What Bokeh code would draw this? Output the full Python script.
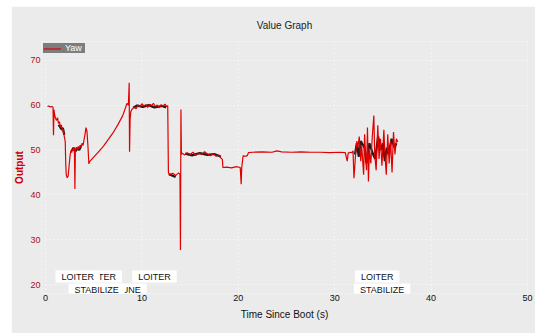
from bokeh.plotting import figure
from bokeh.models import FixedTicker, Label, Range1d
from bokeh.embed import file_html
from bokeh.resources import INLINE

NAN = float("nan")

title_text = "Value Graph"
x_label = "Time Since Boot (s)"
y_label = "Output"
series_name = "Yaw"
x_ticks = [0, 10, 20, 30, 40, 50]
y_ticks = [20, 30, 40, 50, 60, 70]

time_s = [0.2, 0.35, 0.5, 0.65, 0.78, 0.83, 0.88, 0.95, 1.05, 1.15, 1.25, 1.35, 1.45, 1.55,
          1.65, 1.75, 1.85, 1.95, 2.0, 2.05, 2.1, 2.15, 2.25, 2.35, 2.45, 2.55, 2.65, 2.72,
          2.8, 2.9, 3.0, 3.05, 3.1, 3.2, 3.3, 3.4, 3.5, 3.6, 3.7, 3.8, 3.9, 4.0, 4.1, 4.2,
          4.3, 4.4, 4.5, 4.58, 5.0, 5.5, 6.0, 6.5, 7.0, 7.5, 8.0, 8.3, 8.45, 8.6, 8.68, 8.72,
          8.78, 8.85, 8.95, 9.2, 9.4, 9.6, 9.8, 10.0, 10.2, 10.4, 10.6, 10.8, 11.0, 11.2,
          11.4, 11.6, 11.8, 12.0, 12.2, 12.4, 12.6, 12.68, 12.75, 12.85, 13.2, 13.5, 13.8,
          13.95, 14.0, 14.05, 14.1, 14.2, 14.4, 14.7, 15.0, 15.3, 15.6, 15.9, 16.2, 16.5,
          16.8, 17.1, 17.4, 17.7, 18.0, 18.2, 18.35, 18.4, 18.8, 19.3, 19.8, 20.2, 20.3,
          20.35, 20.5, 20.8, 20.95, 21.05, 21.5, 22.5, 23.5, 24.0, 24.5, 25.5, 26.5, 27.5,
          28.5, 29.5, 30.5, 31.1, 31.2, 31.3, 31.4, 31.6, 31.8, 31.9, 32.0, 32.15, 32.3,
          32.4, 32.55, 32.7, 32.8, 33.0, 33.1, 33.2, 33.3, 33.4, 33.5, 33.6, 33.75, 33.9,
          34.06, 34.15, 34.3, 34.47, 34.6, 34.75, 34.9, 35.1, 35.2, 35.35, 35.5, 35.65,
          35.8, 35.95, 36.1, 36.25, 36.4, 36.54]
yaw = [59.7, 59.8, 59.6, 59.7, 59.5, 53.3, 59.0, 57.8, 57.0, 56.6, 57.2, 55.9, 56.3, 55.0,
       55.6, 54.2, 54.6, 53.0, 52.5, 51.8, 47.0, 44.5, 43.8, 44.2, 46.5, 48.8, 50.0, 49.4,
       50.3, 49.8, 50.5, 41.3, 50.0, 50.6, 49.9, 50.8, 50.3, 51.1, 50.6, 51.5, 51.0, 52.3,
       53.5, 55.0, 54.2, 51.0, 46.9, 47.4, 48.4, 49.6, 50.8, 52.3, 53.8, 55.6, 57.6, 59.4,
       60.4, 60.0, 65.0, 49.6, 57.0, 58.5, 59.0, 59.6, 59.2, 60.0, 59.7, 60.3, 59.8, 60.1,
       59.5, 60.2, 59.9, 60.4, 59.7, 60.0, 59.4, 60.1, 59.8, 60.2, 59.6, 59.9, 45.0, 44.5,
       44.8, 44.3, 44.9, 44.6, 27.7, 59.0, 49.0, 49.3, 48.9, 49.4, 49.0, 49.5, 48.8, 49.3,
       49.0, 49.6, 49.1, 48.7, 49.2, 48.6, 48.9, 48.2, 47.9, 46.1, 46.2, 46.0, 46.3, 46.1,
       42.4, 46.0, 48.7, 48.6, 48.8, 49.4, 49.5, 49.6, 49.5, 49.8, 49.6, 49.5, 49.6, 49.5,
       49.5, 49.4, 49.5, 49.4, 48.4, 47.5, 49.3, 49.5, 49.4, 49.8, 43.7, 48.5, 52.0, 50.5,
       53.0, 47.5, 51.0, 44.5, 53.5, 49.0, 45.5, 55.0, 43.0, 50.0, 47.0, 53.0, 57.7, 49.0,
       45.5, 55.5, 48.0, 52.5, 46.5, 54.5, 49.5, 44.5, 53.5, 47.0, 52.0, 45.0, 54.0, 49.0,
       52.5, 51.8]

dark_time = [1.35, 1.5, 1.65, 1.8, 1.95, NAN, 2.75, 2.9, 3.1, 3.3, 3.5, 3.7, NAN,
             9.1, 9.5, 10.1, 10.7, 11.3, 12.1, 12.5, NAN, 12.8, 13.5, NAN,
             14.5, 15.2, 16.0, 16.8, 17.5, 18.2, NAN,
             32.1, 32.3, 32.5, 32.7, 33.1, 33.3, 33.6, 33.9, 34.2, 34.5, 34.8, 35.0, 35.2,
             35.4, 35.6, 35.9, 36.2, 36.4]
dark_yaw = [55.6, 55.2, 54.6, 54.9, 53.4, NAN, 49.9, 50.5, 49.7, 50.4, 50.0, 50.9, NAN,
            59.4, 59.9, 59.6, 60.0, 59.5, 59.8, 59.5, NAN, 44.6, 44.0, NAN,
            49.2, 48.8, 49.3, 48.9, 49.1, 48.5, NAN,
            49.0, 51.5, 48.5, 52.0, 50.5, 47.0, 51.5, 49.5, 48.0, 53.0, 50.0, 51.5, 47.5,
            50.5, 49.0, 52.5, 50.5, 51.5]

# flight-mode annotations (drawn latest-first so earlier boxes overlap later ones)
mode_time = [32.1, 32.0, 9.0, 4.14, 3.31, 2.38, 1.04]
mode_name = ["LOITER", "STABILIZE", "LOITER", "AUTOTUNE", "LOITER", "STABILIZE", "LOITER"]
mode_row = [0, 1, 0, 1, 0, 1, 0]

FONT = "Liberation Sans"
BG = "#ebebeb"

p = figure(width=524, height=327, output_backend="svg", toolbar_location=None,
           x_range=Range1d(-0.414, 50.0), y_range=Range1d(18.03, 74.17),
           min_border_left=29, min_border_right=8, min_border_top=31, min_border_bottom=40,
           background_fill_color=BG, border_fill_color=BG, outline_line_color=None,
           title=title_text)
p.margin = (6, 0, 0, 11)

p.title.align = "center"
p.title.text_font = FONT
p.title.text_font_size = "10px"
p.title.text_font_style = "normal"
p.title.text_color = "#222222"
p.title.standoff = 22

p.line(dark_time, dark_yaw, line_color="#1a1a1a", line_width=2.2)
p.line(time_s, yaw, line_color="#e00000", line_width=1.2, legend_label=series_name)

for t, name, row in zip(mode_time, mode_name, mode_row):
    p.add_layout(Label(x=t, y=17 if row == 0 else 4, y_units="screen", x_offset=0,
                       text=name, text_baseline="middle", text_align="left",
                       text_font=FONT, text_font_size="9px", text_color="#111111",
                       background_fill_color="white", background_fill_alpha=1.0,
                       padding=(6, 1)))

p.xaxis.ticker = FixedTicker(ticks=x_ticks)
p.yaxis.ticker = FixedTicker(ticks=y_ticks)
for ax in (p.xaxis[0], p.yaxis[0]):
    ax.axis_line_color = None
    ax.major_tick_line_color = None
    ax.minor_tick_line_color = None
    ax.major_tick_out = 0
    ax.major_tick_in = 0
    ax.major_label_text_font = FONT
    ax.major_label_text_font_size = "9px"
    ax.axis_label_text_font = FONT
    ax.axis_label_text_font_size = "10px"
    ax.axis_label_text_font_style = "normal"

p.xaxis.axis_label = x_label
p.xaxis.major_label_standoff = 1
p.xaxis.axis_label_standoff = 5
p.xaxis.major_label_text_color = "#111111"
p.xaxis.axis_label_text_color = "#111111"

p.yaxis.axis_label = y_label
p.yaxis.major_label_standoff = 1
p.yaxis.axis_label_standoff = 2
p.yaxis.major_label_text_color = "#b01010"
p.yaxis.axis_label_text_color = "#d00000"
p.yaxis.axis_label_text_font_style = "bold"

p.xgrid.grid_line_color = "white"
p.ygrid.grid_line_color = "white"
p.xgrid.grid_line_dash = "1 3"
p.ygrid.grid_line_dash = "1 3"
p.xgrid.grid_line_alpha = 0.9
p.ygrid.grid_line_alpha = 0.9

p.legend.location = "top_left"
p.legend.margin = 2
p.legend.padding = 1
p.legend.spacing = 0
p.legend.background_fill_color = "#7d7d7d"
p.legend.background_fill_alpha = 1.0
p.legend.border_line_color = None
p.legend.label_text_color = "white"
p.legend.label_text_font = FONT
p.legend.label_text_font_size = "9px"
p.legend.label_height = 9
p.legend.glyph_height = 9
p.legend.glyph_width = 18
p.legend.label_standoff = 4

open("out.html", "w").write(file_html(p, INLINE))
